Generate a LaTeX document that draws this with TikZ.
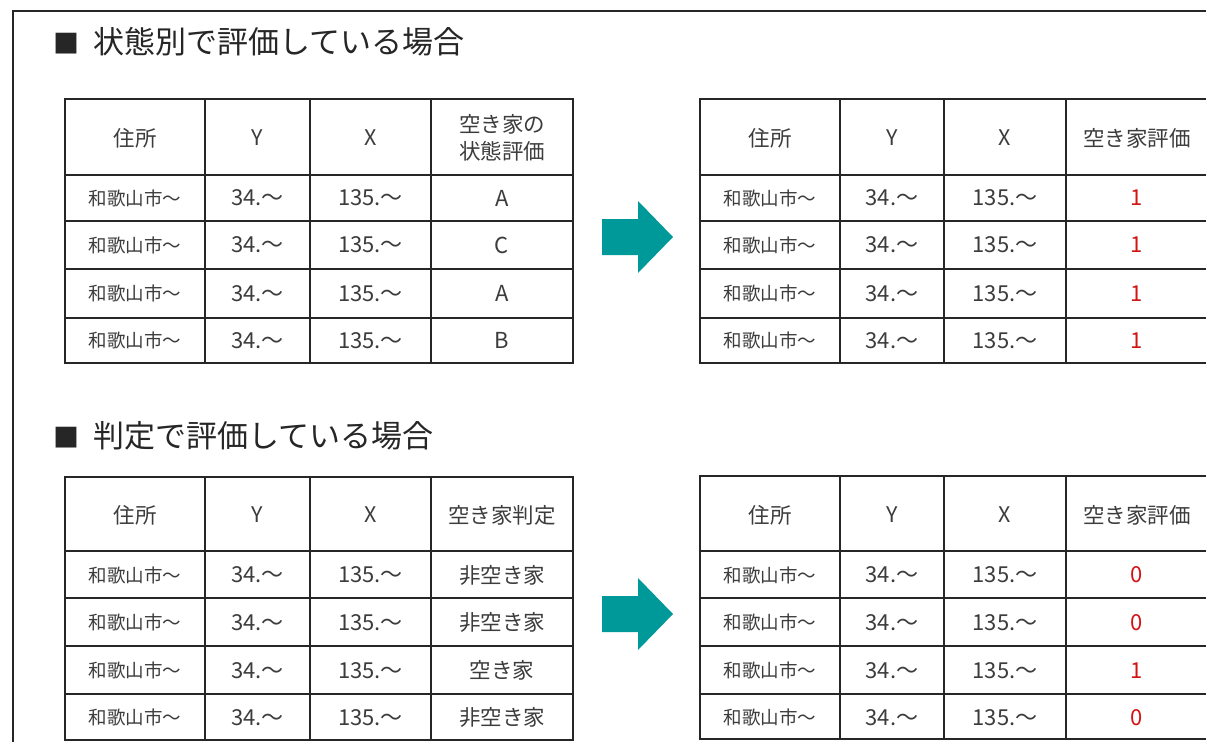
\documentclass[tikz,border=0pt]{standalone}
\usepackage{fontspec}
\setmainfont{Noto Sans CJK JP}
\definecolor{teal}{RGB}{0,153,153}
\definecolor{txt}{RGB}{60,60,60}
\definecolor{redv}{RGB}{210,20,20}
\tikzset{
  grid/.style={line width=1.6pt, draw=black!85},
  frame/.style={line width=1.4pt, draw=black!85},
  addr/.style={font=\fontsize{18.5}{22}\selectfont, text=txt},
  cell/.style={font=\fontsize{22}{26}\selectfont, text=txt},
  head/.style={font=\fontsize{21.5}{26}\selectfont, text=txt, align=center},
  val/.style={font=\fontsize{22}{26}\selectfont, text=redv},
  title/.style={font=\fontsize{31}{34}\selectfont, text=black!85, anchor=west},
  arrowfill/.style={fill=teal, draw=none}
}
\begin{document}
\begin{tikzpicture}[x=1pt,y=-1pt]
\useasboundingbox (0,0) rectangle (1206,741);
\clip (0,0) rectangle (1206,741);
\fill[white] (0,0) rectangle (1206,741);
\draw[frame] (1210,11) -- (13,11) -- (13,750);

% titles
\node[title] (t1) at (50,42) {\fontsize{26}{30}\selectfont■\hspace{14pt}\fontsize{31}{34}\selectfont 状態別で評価している場合};
\node[title] (t2) at (50,436) {\fontsize{26}{30}\selectfont■\hspace{14pt}\fontsize{31}{34}\selectfont 判定で評価している場合};

% ---------- top-left table ----------
\draw[grid] (65,99) rectangle (573,363);
\foreach \x in {205,310,431} \draw[grid] (\x,99) -- (\x,363);
\foreach \y in {175,221,269,318} \draw[grid] (65,\y) -- (573,\y);
\node[head] (a00) at (135,138) {住所};
\node[head] (a01) at (257.5,138) {Y};
\node[head] (a02) at (370.5,138) {X};
\node[head, font=\fontsize{21.5}{27}\selectfont] (a03) at (502,138) {空き家の\\状態評価};
\foreach \y/\v [count=\i] in {198/A,245/C,293.5/A,340.5/B} {
  \node[addr] (a\i0) at (135,\y) {和歌山市～};
  \node[cell] (a\i1) at (257.5,\y) {34.～};
  \node[cell] (a\i2) at (370.5,\y) {135.～};
  \node[cell] (a\i3) at (502,\y) {\v};
}

% ---------- top-right table ----------
\draw[grid] (1215,99) -- (700,99) -- (700,363) -- (1215,363);
\foreach \x in {840,944,1066} \draw[grid] (\x,99) -- (\x,363);
\foreach \y in {175,221,269,318} \draw[grid] (700,\y) -- (1215,\y);
\node[head] (b00) at (770,138) {住所};
\node[head] (b01) at (892,138) {Y};
\node[head] (b02) at (1005,138) {X};
\node[head] (b03) at (1137,138) {空き家評価};
\foreach \y/\v [count=\i] in {198/1,245/1,293.5/1,340.5/1} {
  \node[addr] (b\i0) at (770,\y) {和歌山市～};
  \node[cell] (b\i1) at (892,\y) {34.～};
  \node[cell] (b\i2) at (1005,\y) {135.～};
  \node[val] (b\i3) at (1137,\y) {\v};
}

% ---------- bottom-left table ----------
\draw[grid] (65,477) rectangle (573,740);
\foreach \x in {205,310,431} \draw[grid] (\x,477) -- (\x,740);
\foreach \y in {551,598,646,694} \draw[grid] (65,\y) -- (573,\y);
\node[head] (c00) at (135,515) {住所};
\node[head] (c01) at (257.5,515) {Y};
\node[head] (c02) at (370.5,515) {X};
\node[head] (c03) at (502,515) {空き家判定};
\foreach \y/\v [count=\i] in {575/非空き家,622.5/非空き家,670.5/空き家,717.5/非空き家} {
  \node[addr] (c\i0) at (135,\y) {和歌山市～};
  \node[cell] (c\i1) at (257.5,\y) {34.～};
  \node[cell] (c\i2) at (370.5,\y) {135.～};
  \node[head] (c\i3) at (502,\y) {\v};
}

% ---------- bottom-right table ----------
\draw[grid] (1215,476) -- (700,476) -- (700,739) -- (1215,739);
\foreach \x in {840,944,1066} \draw[grid] (\x,476) -- (\x,739);
\foreach \y in {551,598,646,694} \draw[grid] (700,\y) -- (1215,\y);
\node[head] (d00) at (770,515) {住所};
\node[head] (d01) at (892,515) {Y};
\node[head] (d02) at (1005,515) {X};
\node[head] (d03) at (1137,515) {空き家評価};
\foreach \y/\v [count=\i] in {575/0,622.5/0,670.5/1,717.5/0} {
  \node[addr] (d\i0) at (770,\y) {和歌山市～};
  \node[cell] (d\i1) at (892,\y) {34.～};
  \node[cell] (d\i2) at (1005,\y) {135.～};
  \node[val] (d\i3) at (1137,\y) {\v};
}

% ---------- arrows ----------
\fill[arrowfill] (602,219) -- (638,219) -- (638,201) -- (673,237) -- (638,273) -- (638,255) -- (602,255) -- cycle;
\fill[arrowfill] (602,596) -- (638,596) -- (638,578) -- (673,614) -- (638,650) -- (638,632) -- (602,632) -- cycle;
\end{tikzpicture}
\end{document}
